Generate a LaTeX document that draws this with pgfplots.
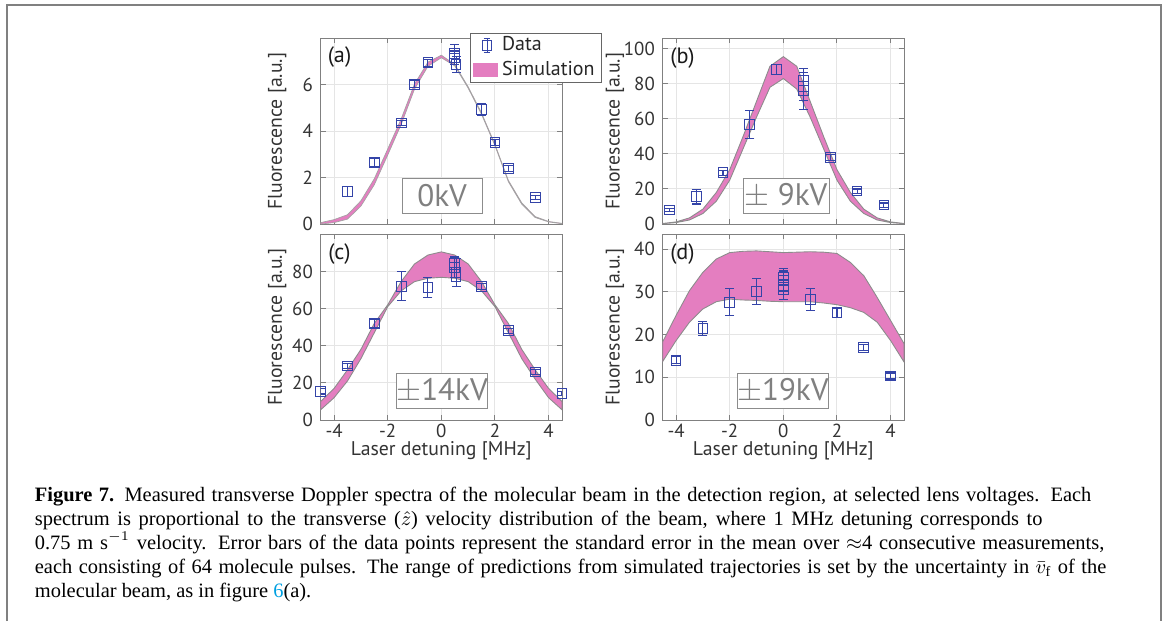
\documentclass[border=0pt]{standalone}
\usepackage{fontspec}
\setmainfont{Liberation Serif}
\newfontfamily\chartfont{PT Sans}
\usepackage{pgfplots}
\pgfplotsset{compat=1.18}
\definecolor{datablue}{RGB}{52,68,168}
\definecolor{simpink}{RGB}{228,126,192}
\definecolor{edgegray}{RGB}{140,140,140}
\definecolor{framegray}{RGB}{128,128,128}
\definecolor{linkblue}{RGB}{0,160,225}

\pgfplotsset{
  panel/.style={scale only axis, width=108.6pt, height=83.6pt,
    xmin=-4.5, xmax=4.5, xtick={-4,-2,...,4}, ymin=0,
    axis line style={black!50, line width=0.45pt},
    tick style={black!50, line width=0.45pt}, major tick length=2.2pt,
    tick align=inside, tick pos=both, grid=major,
    grid style={black!10, line width=0.45pt},
    tick label style={font=\chartfont\fontsize{8.5}{9}\selectfont, text=black!80},
    x tick label style={yshift=1.8pt},
    /pgf/number format/assume math mode=true,
    every axis x label/.style={at={(axis description cs:0.5,-0.19)}, anchor=base,
      font=\chartfont\fontsize{8.9}{9}\selectfont, text=black!80},
    every axis y label/.style={at={(axis description cs:-0.18,0.5)}, rotate=90, anchor=center,
      font=\chartfont\fontsize{8.9}{9}\selectfont, text=black!80},
    ylabel={Fluorescence [a.u.]}},
  ylabB/.style={every axis y label/.style={at={(axis description cs:-0.198,0.5)}, rotate=90, anchor=center,
      font=\chartfont\fontsize{8.9}{9}\selectfont, text=black!80}},
  data/.style={datablue, mark=square, mark size=2.2pt, line width=0.45pt, only marks,
    error bars/y dir=both, error bars/y explicit, error bars/error mark=-,
    error bars/error bar style={draw=datablue, line width=0.5pt},
    error bars/error mark options={rotate=90, draw=datablue, mark size=2pt, line width=0.5pt}},
  band/.style={fill=simpink, draw=edgegray, line width=0.4pt},
}
\tikzset{
  kvbox/.style={draw=black!45, fill=white, line width=0.45pt, text=black!50,
    font=\chartfont\fontsize{14}{14}\selectfont, minimum height=15.8pt, inner sep=0pt},
  letter/.style={font=\chartfont\fontsize{10}{10}\selectfont, text=black!90},
}

\begin{document}
\begin{tikzpicture}
\path[use as bounding box] (0,0) rectangle (524.25pt,-279.45pt);
\draw[framegray, line width=0.9pt] (3.15pt,-279.45pt) -- (3.15pt,-2.25pt) -- (522.45pt,-2.25pt) -- (522.45pt,-279.45pt);

% (a) 0 kV
\begin{axis}[panel, at={(144.3pt,-100.8pt)}, anchor=south west, ymax=8, ytick={0,2,4,6}, xticklabels={},
  legend style={at={(rel axis cs:0.619,1.029)}, anchor=north west, draw=black!60, fill=white,
    font=\chartfont\fontsize{9}{9}\selectfont, text=black!85, inner xsep=1pt, inner ysep=0pt,
    row sep=0pt, legend cell align=left, nodes={inner ysep=1.6pt, inner xsep=2pt}}]
\addlegendimage{legend image code/.code={
  \draw[datablue, line width=0.45pt] (0.22cm,-0.11cm) -- (0.22cm,0.11cm)
    (0.17cm,0.11cm) -- (0.27cm,0.11cm) (0.17cm,-0.11cm) -- (0.27cm,-0.11cm)
    (0.15cm,-0.08cm) rectangle (0.29cm,0.08cm);}}
\addlegendentry{Data}
\addlegendimage{legend image code/.code={\fill[simpink] (0,-2.9pt) rectangle (10.8pt,2.9pt);}}
\addlegendentry{Simulation}
\addplot[fill=simpink, draw=edgegray!80, line width=0.3pt, forget plot] coordinates {
 (-4.5,0.06) (-4,0.19) (-3.5,0.40) (-3,1.00) (-2.5,1.95) (-2,3.23) (-1.5,4.52) (-1,6.03) (-0.5,6.97)
 (0,7.27) (0.5,6.87) (1,5.91) (1.5,4.78) (2,3.43) (2.5,1.88) (3,0.91) (3.5,0.32) (4,0.11) (4.5,0.03)
 (4.5,0.01) (4,0.09) (3.5,0.28) (3,0.85) (2.5,1.82) (2,3.37) (1.5,4.72) (1,5.85) (0.5,6.81)
 (0,7.16) (-0.5,6.79) (-1,5.81) (-1.5,4.28) (-2,2.97) (-2.5,1.69) (-3,0.77) (-3.5,0.21) (-4,0.06) (-4.5,0.00)} -- cycle;
\addplot[data, forget plot] table[x=x, y=y, y error=e] {
x y e
-3.5 1.40 0.20
-2.5 2.66 0.18
-1.5 4.35 0.10
-1.0 6.02 0.15
-0.5 6.94 0.15
0.5 7.35 0.38
0.5 7.15 0.30
0.55 6.88 0.35
1.5 4.94 0.25
2.0 3.50 0.12
2.5 2.39 0.12
3.5 1.14 0.10
};
\node[letter] at (rel axis cs:0.078,0.897) {(a)};
\node[kvbox, minimum width=36pt] at (rel axis cs:0.503,0.153) {0kV};
\end{axis}

% (b) 9 kV
\begin{axis}[panel, ylabB, at={(298.2pt,-100.8pt)}, anchor=south west, ymax=106, ytick={0,20,...,100}, xticklabels={}]
\addplot[band] coordinates {
 (-4.5,0.3) (-4,1.2) (-3.5,3.5) (-3,8.5) (-2.5,18) (-2,31) (-1.5,50) (-1,70) (-0.5,90)
 (0,95.5) (0.5,90) (1,70) (1.5,50) (2,31) (2.5,18) (3,8.5) (3.5,3.5) (4,1.2) (4.5,0.3)
 (4.5,0.2) (4,0.8) (3.5,2.3) (3,6) (2.5,13) (2,25) (1.5,43) (1,61) (0.5,77)
 (0,83) (-0.5,78) (-1,61) (-1.5,43) (-2,25) (-2.5,13) (-3,6) (-3.5,2.3) (-4,0.8) (-4.5,0.2)} -- cycle;
\addplot[data] table[x=x, y=y, y error=e] {
x y e
-4.25 8.0 1.0
-3.25 15.6 4.2
-2.25 29.2 1.5
-1.25 56.9 7.9
-0.25 88.2 3.0
0.75 82.0 6.5
0.75 78.5 8.0
0.75 76.0 10.5
1.75 37.8 1.8
2.75 18.8 1.2
3.75 10.8 1.2
};
\node[letter] at (rel axis cs:0.082,0.894) {(b)};
\node[kvbox, minimum width=38.7pt] at (rel axis cs:0.511,0.153) {$\pm$ 9kV};
\end{axis}

% (c) 14 kV
\begin{axis}[panel, at={(144.3pt,-189pt)}, anchor=south west, ymax=100, ytick={0,20,...,80},
  xlabel={Laser detuning [MHz]}]
\addplot[band] coordinates {
 (-4.5,10) (-4,17) (-3.5,27) (-3,38) (-2.5,52) (-2,62) (-1.5,74.5) (-1,84) (-0.5,88.8)
 (0,90.5) (0.5,88.8) (1,84) (1.5,74.5) (2,62) (2.5,52) (3,38) (3.5,27) (4,17) (4.5,10)
 (4.5,5.5) (4,12) (3.5,22) (3,33) (2.5,47) (2,61) (1.5,69.5) (1,74.5) (0.5,76.3)
 (0,76.8) (-0.5,76.3) (-1,74.5) (-1.5,69.5) (-2,61) (-2.5,47) (-3,33) (-3.5,21) (-4,12) (-4.5,5.5)} -- cycle;
\addplot[data] table[x=x, y=y, y error=e] {
x y e
-4.5 15.5 1.5
-3.5 29.1 1.5
-2.5 51.8 2.2
-1.5 72.0 7.8
-0.5 71.4 5.5
0.5 84.5 3.5
0.5 82.0 5.5
0.55 79.5 7.5
0.55 77.0 5.0
1.5 71.8 1.5
2.5 48.0 1.2
3.5 25.9 1.2
4.5 14.3 1.2
};
\node[letter] at (rel axis cs:0.078,0.892) {(c)};
\node[kvbox, minimum width=40.5pt] at (rel axis cs:0.503,0.155) {$\pm$14kV};
\end{axis}

% (d) 19 kV
\begin{axis}[panel, ylabB, at={(298.2pt,-189pt)}, anchor=south west, ymax=43.5, ytick={0,10,...,40},
  xlabel={Laser detuning [MHz]}]
\addplot[band] coordinates {
 (-4.5,18.3) (-4,24.5) (-3.5,30.3) (-3,34.6) (-2.5,37.7) (-2,39.2) (-1.5,39.5) (-1,39.6) (-0.5,39.4)
 (0,39.2) (0.5,39.3) (1,39.4) (1.5,39.3) (2,39.0) (2.5,36.9) (3,33.8) (3.5,28.7) (4,23.3) (4.5,17.9)
 (4.5,13.6) (4,18.6) (3.5,22.9) (3,25.2) (2.5,26.3) (2,27.0) (1.5,27.4) (1,27.7) (0.5,27.7)
 (0,27.7) (-0.5,27.8) (-1,28.0) (-1.5,28.1) (-2,28.3) (-2.5,27.7) (-3,26.0) (-3.5,22.9) (-4,18.6) (-4.5,13.7)} -- cycle;
\addplot[data] table[x=x, y=y, y error=e] {
x y e
-4 14.0 0.8
-3 21.4 1.6
-2 27.6 3.1
-1 30.1 3.1
0 33.4 2.0
0 32.6 2.5
0 31.5 3.2
0 30.5 2.3
1 28.2 2.6
2 25.1 1.1
3 16.9 0.7
4 10.3 0.7
};
\node[letter] at (rel axis cs:0.082,0.892) {(d)};
\node[kvbox, minimum width=40.5pt] at (rel axis cs:0.498,0.155) {$\pm$19kV};
\end{axis}

% caption
\begin{scope}[every node/.style={anchor=base west, inner sep=0pt, font=\fontsize{9.2}{11}\selectfont}]
\node at (15.5pt,-225.8pt) {\makebox[475.4pt][s]{\textbf{Figure 7.}\enspace Measured transverse Doppler spectra of the molecular beam in the detection region, at selected lens voltages. Each}};
\node at (15.5pt,-236.5pt) {\makebox[453.4pt][s]{spectrum is proportional to the transverse ($\hat{z}$) velocity distribution of the beam, where 1 MHz detuning corresponds to}};
\node at (15.5pt,-247.2pt) {\makebox[481.3pt][s]{0.75 m s$^{-1}$ velocity. Error bars of the data points represent the standard error in the mean over $\approx$4 consecutive measurements,}};
\node at (15.5pt,-258.0pt) {\makebox[482.2pt][s]{each consisting of 64 molecule pulses. The range of predictions from simulated trajectories is set by the uncertainty in $\bar{v}_{\mathrm{f}}$ of the}};
\node at (15.5pt,-268.7pt) {molecular beam, as in figure {\color{linkblue}6}(a).};
\end{scope}
\end{tikzpicture}
\end{document}
